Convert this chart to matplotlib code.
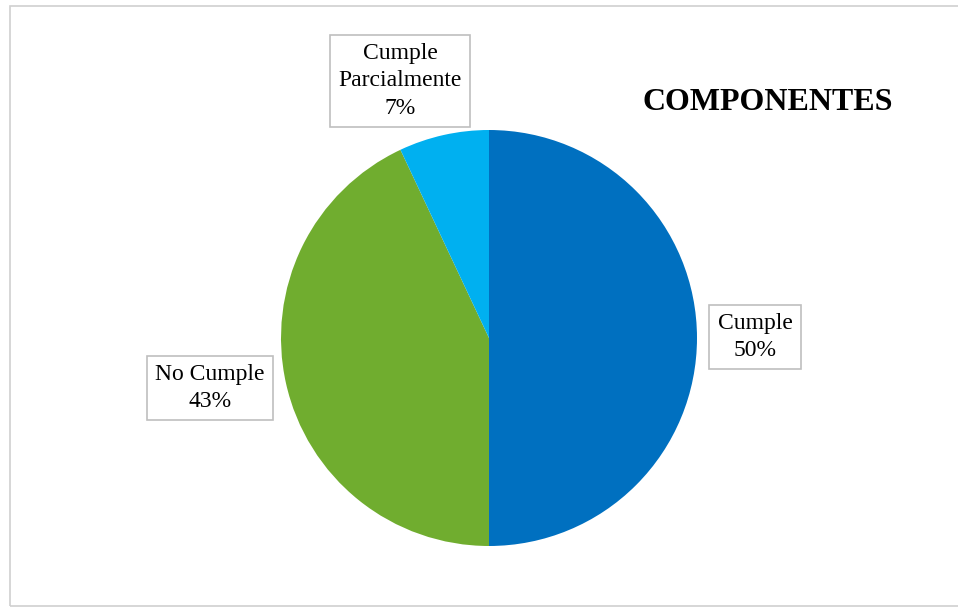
import matplotlib.pyplot as plt
from matplotlib.patches import Rectangle

labels = ['Cumple', 'No Cumple', 'Cumple\nParcialmente']
values = [50, 43, 7]
colors = ['#0070C0', '#70AD2F', '#00B0F0']
# label box centres in figure pixels (x, y from top)
label_pos = [(755, 337), (210, 388), (400, 81)]

W, H = 958, 609
plt.rcParams['font.family'] = ['Liberation Serif', 'DejaVu Serif']

fig = plt.figure(figsize=(W / 100, H / 100), dpi=100)
fig.patches.append(Rectangle((10 / W, 3 / H), (W + 10) / W, (H - 9) / H,
                             transform=fig.transFigure, fill=False,
                             edgecolor='#D0D0D0', linewidth=1.2))

ax = fig.add_axes([281 / W, 63 / H, 416 / W, 416 / H])
ax.pie(values, colors=colors, startangle=90, counterclock=False,
       wedgeprops=dict(linewidth=0))
ax.set_xlim(-1, 1)
ax.set_ylim(-1, 1)
ax.set_aspect('equal')

for lab, val, (px, py) in zip(labels, values, label_pos):
    fig.text(px / W, 1 - py / H, f'{lab}\n{val}%', ha='center', va='center',
             fontsize=17, linespacing=1.38,
             bbox=dict(boxstyle='square,pad=0.35', facecolor='white',
                       edgecolor='#BFBFBF', linewidth=1.2))

fig.text(768 / W, 1 - 102 / H, 'COMPONENTES', ha='center', va='center',
         fontsize=23, fontweight='bold')

fig.savefig('out.png', dpi=100)
